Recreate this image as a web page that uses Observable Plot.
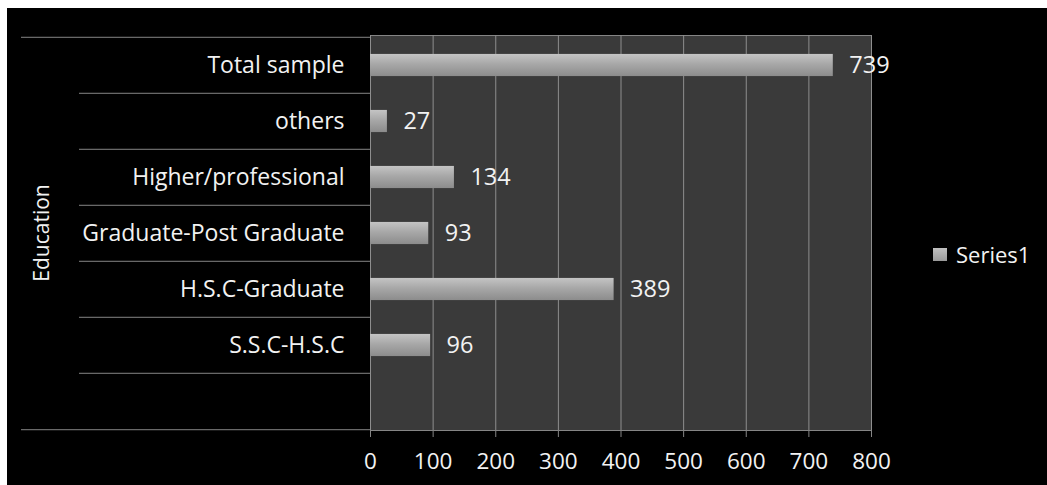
<!DOCTYPE html>
<html>
<head>
<meta charset="utf-8">
<script src="https://cdn.jsdelivr.net/npm/d3@7"></script>
<script src="https://cdn.jsdelivr.net/npm/@observablehq/plot@0.6"></script>
<style>
  html, body { margin: 0; padding: 0; background: #ffffff; }
  #wrap { position: absolute; left: 7px; top: 8px; width: 1040px; height: 477px; background: #000; overflow: hidden; }
  #legend { position: absolute; left: 926px; top: 231px; font-family: "Open Sans", sans-serif; font-size: 22px; color: #f2f2f2; display: flex; align-items: center; }
  #legend .sw { width: 14px; height: 13px; background: linear-gradient(#c0c0c0, #9a9a9a); margin-right: 9px; }
</style>
</head>
<body>
<div id="wrap">
  <div id="chart"></div>
  <div id="legend"><span class="sw"></span><span id="legendText"></span></div>
</div>
<script>
const categories = ["Total sample", "others", "Higher/professional", "Graduate-Post Graduate", "H.S.C-Graduate", "S.S.C-H.S.C"];
const values = [739, 27, 134, 93, 389, 96];
const bandSlots = [...categories, ""];
const xTicks = [0, 100, 200, 300, 400, 500, 600, 700, 800];
const seriesName = "Series1";
const axisTitle = "Education";

const data = categories.map((c, i) => ({category: c, value: values[i]}));

const W = 1040, H = 477, mt = 27, mb = 55, ml = 363, mr = 176;
const step = (H - mt - mb) / bandSlots.length;
const lineColor = "#858585";

const defs = () => {
  const ns = "http://www.w3.org/2000/svg";
  const d = document.createElementNS(ns, "defs");
  d.innerHTML = `
    <linearGradient id="barGrad" x1="0" y1="0" x2="0" y2="1">
      <stop offset="0%" stop-color="#c4c4c4"/>
      <stop offset="45%" stop-color="#a8a8a8"/>
      <stop offset="100%" stop-color="#8c8c8c"/>
    </linearGradient>
    <filter id="shadow" x="-5%" y="-20%" width="110%" height="160%">
      <feDropShadow dx="2" dy="2" stdDeviation="1.5" flood-color="#000" flood-opacity="0.6"/>
    </filter>`;
  return d;
};

const chart = Plot.plot({
  width: W,
  height: H,
  marginTop: mt,
  marginBottom: mb,
  marginLeft: ml,
  marginRight: mr,
  style: {background: "transparent", color: "#f2f2f2", fontFamily: "Open Sans, sans-serif", overflow: "visible"},
  x: {domain: [0, 800]},
  y: {domain: bandSlots, padding: 0},
  marks: [
    defs,
    Plot.frame({fill: "#3a3a3a", stroke: lineColor}),
    Plot.gridX(xTicks, {stroke: "#8e8e8e", strokeOpacity: 1}),
    Plot.barX(data, {x: "value", y: "category", fill: "url(#barGrad)", insetTop: step * 0.3, insetBottom: step * 0.3, style: "filter:url(#shadow)"}),
    Plot.text(data, {x: "value", y: "category", text: d => String(d.value), dx: 16, textAnchor: "start", fill: "#f2f2f2", fontSize: 23.5}),
    Plot.axisX({ticks: xTicks, tickSize: 7, tickPadding: 16, stroke: lineColor, fill: "#f2f2f2", fontSize: 22.5, label: null}),
    Plot.axisY({ticks: bandSlots.slice(1), tickSize: ml - 72, tickFormat: () => "", stroke: lineColor, dy: -step / 2, label: null}),
    Plot.axisY({ticks: [bandSlots[0]], tickSize: ml - 14, tickFormat: () => "", stroke: lineColor, dy: -step / 2, label: null}),
    Plot.axisY({ticks: [bandSlots[bandSlots.length - 1]], tickSize: ml - 14, tickFormat: () => "", stroke: lineColor, dy: step / 2, label: null}),
    Plot.axisY({ticks: categories, tickSize: 0, tickPadding: 26, fill: "#f2f2f2", fontSize: 23, label: null}),
    Plot.axisY({ticks: [], tickSize: 0, fill: "#f2f2f2", fontSize: 21, label: axisTitle, labelAnchor: "center", labelOffset: 336})
  ]
});
document.getElementById("chart").appendChild(chart);
document.getElementById("legendText").textContent = seriesName;
</script>
</body>
</html>
